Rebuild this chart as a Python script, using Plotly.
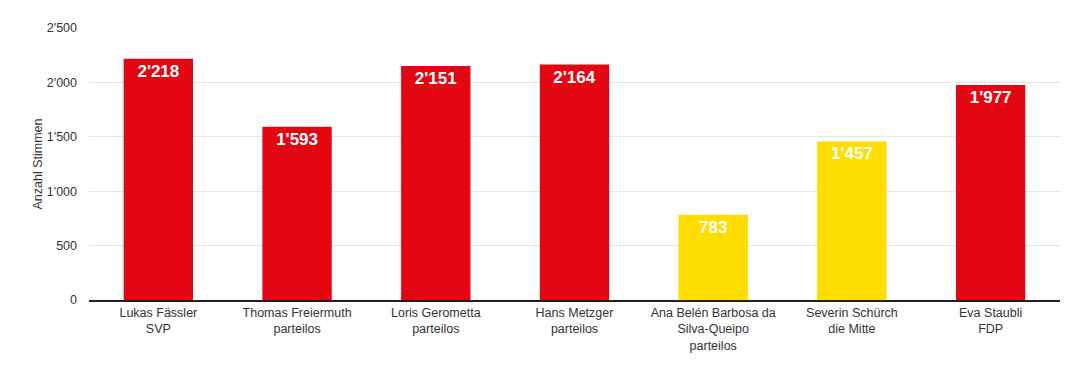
import plotly.graph_objects as go

categories = [
    "Lukas Fässler<br>SVP",
    "Thomas Freiermuth<br>parteilos",
    "Loris Gerometta<br>parteilos",
    "Hans Metzger<br>parteilos",
    "Ana Belén Barbosa da<br>Silva-Queipo<br>parteilos",
    "Severin Schürch<br>die Mitte",
    "Eva Staubli<br>FDP",
]
votes = [2218, 1593, 2151, 2164, 783, 1457, 1977]
colors = ["#E30613", "#E30613", "#E30613", "#E30613", "#FFDD00", "#FFDD00", "#E30613"]
ytick_vals = [0, 500, 1000, 1500, 2000, 2500]

fig = go.Figure(go.Bar(
    x=categories,
    y=votes,
    marker=dict(color=colors, line=dict(width=0)),
    texttemplate="%{y:,d}",
    textposition="inside",
    insidetextanchor="end",
    textfont=dict(color="white", size=17, family="Liberation Sans, Arial", weight="bold"),
    textangle=0,
    hoverinfo="skip",
))

fig.update_layout(
    width=1083, height=365,
    margin=dict(l=81, r=31, t=20, b=73, autoexpand=False),
    paper_bgcolor="white", plot_bgcolor="white",
    separators=".'",
    bargap=0.5,
    showlegend=False,
    font=dict(family="Liberation Sans, Arial", size=12.5, color="#333333"),
)
fig.update_xaxes(
    showline=True, linecolor="#222222", linewidth=2,
    ticks="", tickfont=dict(size=12.5, color="#333333"),
    showgrid=False, automargin=False,
)
fig.update_yaxes(
    range=[0, 2500], tickvals=ytick_vals, tickformat=",d",
    showgrid=True, gridcolor="#E6E6E6", gridwidth=1,
    zeroline=False, showline=False, ticks="",
    ticklabelstandoff=11, automargin=False,
    tickfont=dict(size=12.5, color="#333333"),
    title=dict(text="Anzahl Stimmen", font=dict(size=12.5, color="#333333"), standoff=1),
)

fig.write_html("out.html")
